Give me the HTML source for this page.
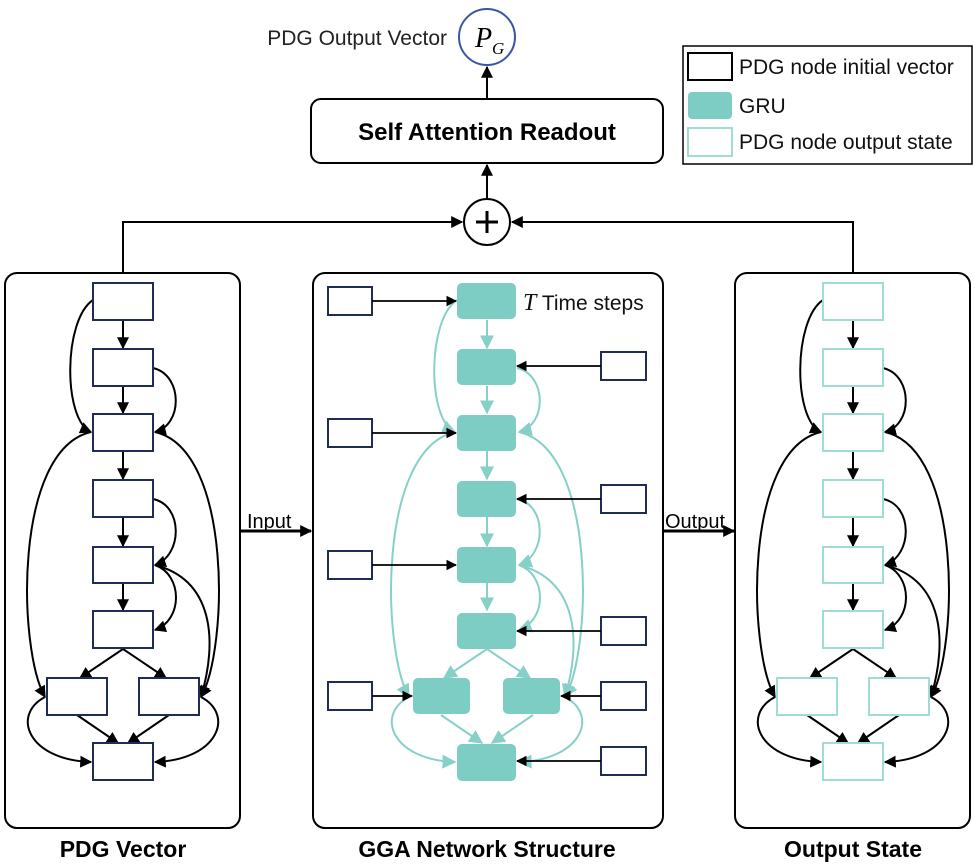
<!DOCTYPE html>
<html><head><meta charset="utf-8"><style>body{margin:0;background:#fff}svg{display:block}</style></head><body>
<svg width="975" height="865" viewBox="0 0 975 865" xmlns="http://www.w3.org/2000/svg" font-family="Liberation Sans, sans-serif">
<defs>
<marker id="ab" viewBox="0 0 10 10" refX="9" refY="5" markerWidth="6" markerHeight="6" orient="auto-start-reverse"><path d="M0,0 L10,5 L0,10 z" fill="#000"/></marker>
<marker id="at" viewBox="0 0 10 10" refX="9" refY="5" markerWidth="7" markerHeight="7" orient="auto-start-reverse"><path d="M0,0 L10,5 L0,10 z" fill="#86d0c8"/></marker>
<marker id="abig" viewBox="0 0 10 10" refX="9" refY="5" markerWidth="4" markerHeight="4" orient="auto"><path d="M0,0 L10,5 L0,10 z" fill="#000"/></marker>
<g id="edges">
<path d="M0,320 L0,348"/>
<path d="M0,386 L0,413"/>
<path d="M0,451 L0,479"/>
<path d="M0,517 L0,546"/>
<path d="M0,583 L0,610"/>
<path d="M-30,300 C-60,320 -60,420 -32,432"/>
<path d="M30,368 C60,375 60,425 32,432"/>
<path d="M-32,432 C-110,450 -105,650 -78,697"/>
<path d="M32,432 C110,450 105,650 78,697"/>
<path d="M30,499 C60,505 60,555 32,565"/>
<path d="M32,565 C60,575 60,620 32,630"/>
<path d="M32,565 C90,580 95,640 78,697"/>
<path d="M0,649 L-43,678"/>
<path d="M0,649 L43,678"/>
<path d="M-78,697 C-112,715 -95,760 -32,762"/>
<path d="M78,697 C112,715 95,760 32,762"/>
<path d="M-46,715 L-5,743"/>
<path d="M46,715 L5,743"/>
</g>
<g id="nodes">
<rect x="-30" y="283" width="60" height="37"/>
<rect x="-30" y="349" width="60" height="37"/>
<rect x="-30" y="414" width="60" height="37"/>
<rect x="-30" y="480" width="60" height="37"/>
<rect x="-30" y="547" width="60" height="36"/>
<rect x="-30" y="611" width="60" height="37"/>
<rect x="-76" y="678" width="60" height="37"/>
<rect x="16" y="678" width="60" height="37"/>
<rect x="-30" y="743" width="60" height="37"/>
</g>
</defs>

<!-- top -->
<text x="447" y="45" font-size="21" text-anchor="end" fill="#222">PDG Output Vector</text>
<circle cx="487" cy="37" r="28" fill="#fff" stroke="#3a58a0" stroke-width="2"/>
<text x="475" y="47" font-family="Liberation Serif, serif" font-style="italic" font-size="28">P</text>
<text x="492" y="54" font-family="Liberation Serif, serif" font-style="italic" font-size="17">G</text>
<rect x="311" y="99" width="352" height="64" rx="10" fill="#fff" stroke="#000" stroke-width="2"/>
<text x="487" y="140" font-size="24" font-weight="bold" text-anchor="middle">Self Attention Readout</text>
<line x1="487" y1="99" x2="487" y2="67" stroke="#000" stroke-width="2" marker-end="url(#ab)"/>
<line x1="487" y1="198" x2="487" y2="165" stroke="#000" stroke-width="2" marker-end="url(#ab)"/>
<circle cx="487" cy="222" r="23" fill="#fff" stroke="#000" stroke-width="2"/>
<path d="M476,222 H498 M487,211 V233" stroke="#000" stroke-width="3"/>
<polyline points="123,273 123,222 462,222" fill="none" stroke="#000" stroke-width="2" marker-end="url(#ab)"/>
<polyline points="853,273 853,222 512,222" fill="none" stroke="#000" stroke-width="2" marker-end="url(#ab)"/>

<!-- legend -->
<rect x="683" y="46" width="289" height="118" fill="#fff" stroke="#000" stroke-width="1.5"/>
<rect x="688" y="53" width="44" height="27" fill="#fff" stroke="#000" stroke-width="2"/>
<rect x="688" y="92" width="44" height="27" rx="4" fill="#7ecdc5"/>
<rect x="688" y="128" width="44" height="28" fill="#fff" stroke="#9fdcd5" stroke-width="2"/>
<g font-size="21" fill="#111">
<text x="739" y="74">PDG node initial vector</text>
<text x="739" y="113">GRU</text>
<text x="739" y="149">PDG node output state</text>
</g>

<!-- panels -->
<rect x="5" y="273" width="235" height="555" rx="12" fill="none" stroke="#000" stroke-width="2"/>
<rect x="313" y="273" width="350" height="555" rx="12" fill="none" stroke="#000" stroke-width="2"/>
<rect x="735" y="273" width="235" height="555" rx="12" fill="none" stroke="#000" stroke-width="2"/>

<!-- left panel -->
<use href="#edges" transform="translate(123,0)" fill="none" stroke="#000" stroke-width="2" marker-end="url(#ab)"/>
<use href="#nodes" transform="translate(123,0)" fill="#fff" stroke="#1f2d55" stroke-width="2"/>
<!-- right panel -->
<use href="#edges" transform="translate(853,0)" fill="none" stroke="#000" stroke-width="2" marker-end="url(#ab)"/>
<use href="#nodes" transform="translate(853,0)" fill="#fff" stroke="#9fdcd5" stroke-width="2"/>
<!-- middle panel -->
<use href="#edges" transform="translate(487,0)" fill="none" stroke="#86d0c8" stroke-width="2" marker-end="url(#at)"/>
<g fill="#7ecdc5">
<rect x="457" y="283" width="59" height="36" rx="5"/>
<rect x="457" y="349" width="59" height="36" rx="5"/>
<rect x="457" y="415" width="59" height="36" rx="5"/>
<rect x="457" y="481" width="59" height="36" rx="5"/>
<rect x="457" y="547" width="59" height="36" rx="5"/>
<rect x="457" y="613" width="59" height="36" rx="5"/>
<rect x="413" y="678" width="57" height="36" rx="5"/>
<rect x="503" y="678" width="57" height="36" rx="5"/>
<rect x="457" y="744" width="59" height="37" rx="5"/>
</g>
<text x="523" y="310" font-size="21" fill="#111"><tspan font-family="Liberation Serif, serif" font-style="italic" font-size="24">T</tspan> Time steps</text>
<g fill="#fff" stroke="#1f2d55" stroke-width="2">
<rect x="328" y="287" width="44" height="28"/>
<rect x="328" y="419" width="44" height="28"/>
<rect x="328" y="551" width="44" height="28"/>
<rect x="328" y="682" width="44" height="28"/>
<rect x="601" y="352" width="45" height="28"/>
<rect x="601" y="485" width="45" height="28"/>
<rect x="601" y="617" width="45" height="28"/>
<rect x="601" y="682" width="45" height="28"/>
<rect x="601" y="747" width="45" height="28"/>
</g>
<g stroke="#000" stroke-width="1.8" marker-end="url(#ab)">
<line x1="372" y1="301" x2="456" y2="301"/>
<line x1="372" y1="433" x2="456" y2="433"/>
<line x1="372" y1="565" x2="456" y2="565"/>
<line x1="372" y1="696" x2="412" y2="696"/>
<line x1="601" y1="366" x2="517" y2="366"/>
<line x1="601" y1="499" x2="517" y2="499"/>
<line x1="601" y1="631" x2="517" y2="631"/>
<line x1="601" y1="696" x2="561" y2="696"/>
<line x1="601" y1="761" x2="517" y2="761"/>
</g>

<!-- input/output arrows -->
<text x="247" y="528" font-size="20">Input</text>
<line x1="241" y1="531" x2="311" y2="531" stroke="#000" stroke-width="3" marker-end="url(#abig)"/>
<text x="665" y="528" font-size="20">Output</text>
<line x1="664" y1="531" x2="734" y2="531" stroke="#000" stroke-width="3" marker-end="url(#abig)"/>

<!-- captions -->
<g font-size="23" font-weight="bold" text-anchor="middle">
<text x="123" y="857">PDG Vector</text>
<text x="487" y="857">GGA Network Structure</text>
<text x="853" y="857">Output State</text>
</g>
</svg>
</body></html>
